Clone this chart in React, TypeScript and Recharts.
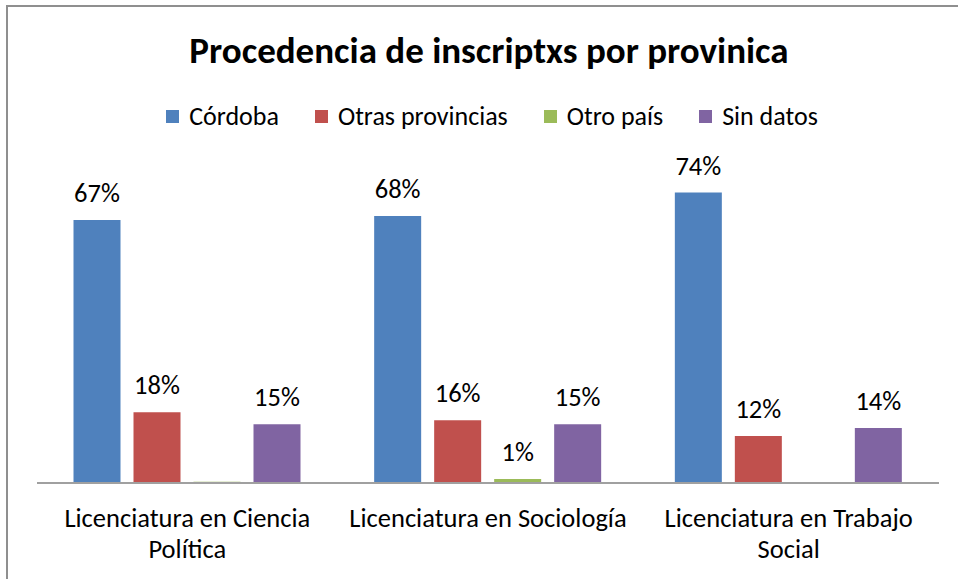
import React from "react";
import { BarChart, Bar, XAxis, YAxis, Legend, LabelList } from "recharts";

const categories = [
  "Licenciatura en Ciencia Política",
  "Licenciatura en Sociología",
  "Licenciatura en Trabajo Social",
];
const categoryLines = [
  ["Licenciatura en Ciencia", "Política"],
  ["Licenciatura en Sociología"],
  ["Licenciatura en Trabajo", "Social"],
];
const cordoba = [67, 68, 74];
const otrasProvincias = [18, 16, 12];
const otroPais = [0.3, 1, 0];
const sinDatos = [15, 15, 14];

const seriesKeys = ["cordoba", "otras", "otro", "sin"];
const seriesNames = ["Córdoba", "Otras provincias", "Otro país", "Sin datos"];
const seriesColors = ["#4F81BD", "#C0504D", "#9BBB59", "#8064A2"];

const title = "Procedencia de inscriptxs por provinica";
const FONT = "Carlito, Calibri, Lato, sans-serif";

const data = categories.map((c, i) => ({
  name: c,
  cordoba: cordoba[i],
  otras: otrasProvincias[i],
  otro: otroPais[i],
  sin: sinDatos[i],
}));

const fmt = (v: any) => (typeof v === "number" && v >= 1 ? `${v}%` : "");

const CategoryTick = (props: any) => {
  const { x, y, payload } = props;
  const idx = categories.indexOf(payload.value);
  const lines = categoryLines[idx] || [String(payload.value)];
  return (
    <g>
      <text x={x} y={y + 44} textAnchor="middle" fontSize={26.5} fontFamily={FONT} fill="#000">
        {lines.map((l, i) => (
          <tspan key={i} x={x} dy={i === 0 ? 0 : 31}>
            {l}
          </tspan>
        ))}
      </text>
    </g>
  );
};

const renderLegend = () => (
  <div
    style={{
      display: "flex",
      justifyContent: "center",
      alignItems: "center",
      height: 32,
      fontSize: 26,
      lineHeight: "32px",
      fontFamily: FONT,
      color: "#000",
      paddingLeft: 26,
    }}
  >
    {seriesNames.map((n, i) => (
      <div key={n} style={{ display: "flex", alignItems: "center", marginRight: i < seriesNames.length - 1 ? 36 : 0 }}>
        <span style={{ display: "inline-block", width: 13, height: 13, background: seriesColors[i], marginRight: 10 }} />
        <span>{n}</span>
      </div>
    ))}
  </div>
);

export default function App() {
  return (
    <div
      style={{
        position: "absolute",
        left: 0,
        top: 0,
        width: 958,
        height: 579,
        overflow: "hidden",
        background: "#fff",
        fontFamily: FONT,
      }}
    >
      <div
        style={{
          position: "absolute",
          left: 6,
          top: 5,
          width: 1000,
          height: 1000,
          border: "2px solid #8f8f8f",
        }}
      />
      <div
        style={{
          position: "absolute",
          left: 20,
          top: 32,
          width: 938,
          textAlign: "center",
          fontSize: 37,
          lineHeight: "37px",
          fontWeight: 700,
          color: "#000",
          whiteSpace: "nowrap",
        }}
      >
        {title}
      </div>
      <div style={{ position: "absolute", left: 0, top: 0 }}>
        <BarChart
          width={958}
          height={579}
          data={data}
          margin={{ top: 169, right: 19, bottom: 36, left: 37 }}
          barCategoryGap={36.5}
          barGap={13}
        >
          <XAxis
            dataKey="name"
            height={60}
            interval={0}
            axisLine={{ stroke: "#a0a0a0", strokeWidth: 2 }}
            tickLine={false}
            tickSize={0}
            tickMargin={0}
            tick={<CategoryTick />}
          />
          <YAxis hide domain={[0, 80]} />
          <Legend
            verticalAlign="middle"
            align="center"
            layout="horizontal"
            content={renderLegend}
            wrapperStyle={{ top: 100, left: 0, width: 958 }}
          />
          {seriesKeys.map((k, i) => (
            <Bar key={k} dataKey={k} name={seriesNames[i]} fill={seriesColors[i]} isAnimationActive={false}>
              <LabelList
                dataKey={k}
                position="top"
                offset={18}
                formatter={fmt}
                fill="#000"
                fontSize={26.5}
                fontFamily={FONT}
              />
            </Bar>
          ))}
        </BarChart>
      </div>
    </div>
  );
}
